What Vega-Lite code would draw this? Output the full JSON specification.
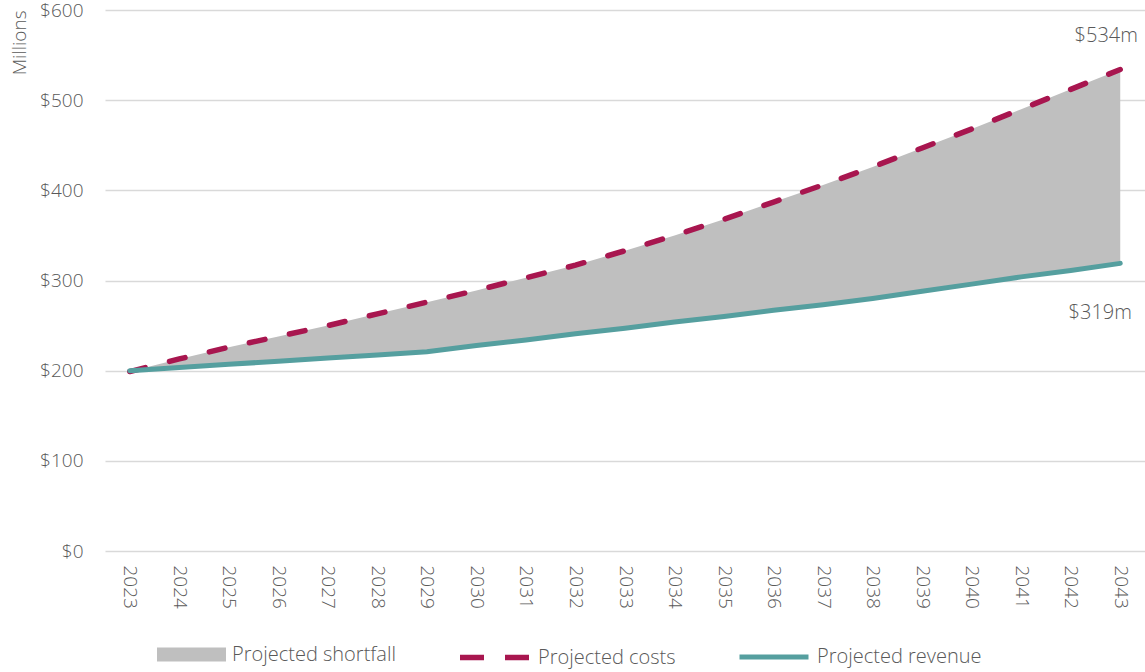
{
  "$schema": "https://vega.github.io/schema/vega-lite/v6.json",
  "autosize": {"type": "none"},
  "width": 1040,
  "height": 541,
  "padding": {"left": 105, "top": 10, "right": 0, "bottom": 121},
  "background": "#ffffff",
  "datasets": {
    "projection": [
      {"year": "2023", "costs": 199, "revenue": 200},
      {"year": "2024", "costs": 213, "revenue": 203.5},
      {"year": "2025", "costs": 226, "revenue": 207},
      {"year": "2026", "costs": 238, "revenue": 210.5},
      {"year": "2027", "costs": 250, "revenue": 214},
      {"year": "2028", "costs": 263, "revenue": 217.5},
      {"year": "2029", "costs": 276, "revenue": 221},
      {"year": "2030", "costs": 289, "revenue": 228},
      {"year": "2031", "costs": 303, "revenue": 234},
      {"year": "2032", "costs": 317, "revenue": 241},
      {"year": "2033", "costs": 333, "revenue": 247},
      {"year": "2034", "costs": 350, "revenue": 254},
      {"year": "2035", "costs": 368, "revenue": 260},
      {"year": "2036", "costs": 387, "revenue": 267},
      {"year": "2037", "costs": 406, "revenue": 273},
      {"year": "2038", "costs": 426, "revenue": 280},
      {"year": "2039", "costs": 447, "revenue": 288},
      {"year": "2040", "costs": 468, "revenue": 296},
      {"year": "2041", "costs": 490, "revenue": 304},
      {"year": "2042", "costs": 512, "revenue": 311},
      {"year": "2043", "costs": 534, "revenue": 319}
    ],
    "callouts": [
      {"year": "2043", "series": "costs", "value": 534, "label": "$534m"},
      {"year": "2043", "series": "revenue", "value": 319, "label": "$319m"}
    ]
  },
  "config": {
    "font": "Open Sans",
    "view": {"stroke": null},
    "axis": {
      "labelFont": "Open Sans",
      "labelFontSize": 19,
      "labelFontWeight": 300,
      "labelColor": "#595959",
      "titleFont": "Open Sans",
      "titleFontSize": 19,
      "titleFontWeight": 300,
      "titleColor": "#595959",
      "domain": false,
      "ticks": false
    },
    "legend": {
      "labelFont": "Open Sans",
      "labelFontSize": 20,
      "labelFontWeight": 300,
      "labelColor": "#595959",
      "labelLimit": 400,
      "labelOffset": 6,
      "padding": 0,
      "orient": "none",
      "direction": "horizontal",
      "symbolSize": 4761,
      "symbolOpacity": 1
    }
  },
  "layer": [
    {
      "data": {"name": "projection"},
      "mark": {"type": "area", "opacity": 1},
      "encoding": {
        "x": {
          "field": "year",
          "type": "ordinal",
          "scale": {"type": "point", "padding": 0.5},
          "axis": {
            "title": null,
            "labelAngle": 90,
            "labelPadding": 14,
            "grid": false
          }
        },
        "y": {
          "field": "revenue",
          "type": "quantitative",
          "scale": {"domain": [0, 600], "nice": false},
          "axis": {
            "title": "Millions",
            "titleAnchor": "end",
            "titlePadding": 10,
            "values": [0, 100, 200, 300, 400, 500, 600],
            "format": "$d",
            "labelPadding": 22,
            "grid": true,
            "gridColor": "#d9d9d9",
            "gridWidth": 1.5
          }
        },
        "y2": {"field": "costs"},
        "fill": {
          "datum": "Projected shortfall",
          "type": "nominal",
          "scale": {"domain": ["Projected shortfall"], "range": ["#bfbfbf"]},
          "legend": {
            "title": null,
            "legendX": 52,
            "legendY": 610,
            "symbolType": "M-1,-0.2H1V0.2H-1Z",
            "symbolStrokeWidth": 0
          }
        }
      }
    },
    {
      "data": {"name": "projection"},
      "mark": {"type": "line", "strokeWidth": 5.5, "strokeDash": [16, 25], "strokeCap": "round"},
      "encoding": {
        "x": {"field": "year", "type": "ordinal"},
        "y": {"field": "costs", "type": "quantitative"},
        "color": {
          "datum": "Projected costs",
          "type": "nominal",
          "scale": {"domain": ["Projected costs"], "range": ["#a8164f"]},
          "legend": {
            "title": null,
            "legendX": 352,
            "legendY": 610,
            "symbolType": "stroke",
            "symbolStrokeWidth": 5.5,
            "symbolDash": [24, 21]
          }
        }
      }
    },
    {
      "data": {"name": "projection"},
      "mark": {"type": "line", "strokeWidth": 5, "strokeCap": "round"},
      "encoding": {
        "x": {"field": "year", "type": "ordinal"},
        "y": {"field": "revenue", "type": "quantitative"},
        "stroke": {
          "datum": "Projected revenue",
          "type": "nominal",
          "scale": {"domain": ["Projected revenue"], "range": ["#559f9f"]},
          "legend": {
            "title": null,
            "legendX": 632,
            "legendY": 610,
            "symbolType": "stroke",
            "symbolStrokeWidth": 5
          }
        }
      }
    },
    {
      "data": {"name": "callouts"},
      "transform": [{"filter": "datum.series === 'costs'"}],
      "mark": {"type": "text", "fontSize": 20, "fontWeight": 300, "color": "#595959", "align": "center", "baseline": "middle", "dx": -14, "dy": -34},
      "encoding": {
        "x": {"field": "year", "type": "ordinal"},
        "y": {"field": "value", "type": "quantitative"},
        "text": {"field": "label"}
      }
    },
    {
      "data": {"name": "callouts"},
      "transform": [{"filter": "datum.series === 'revenue'"}],
      "mark": {"type": "text", "fontSize": 20, "fontWeight": 300, "color": "#595959", "align": "center", "baseline": "middle", "dx": -20, "dy": 50},
      "encoding": {
        "x": {"field": "year", "type": "ordinal"},
        "y": {"field": "value", "type": "quantitative"},
        "text": {"field": "label"}
      }
    }
  ]
}
